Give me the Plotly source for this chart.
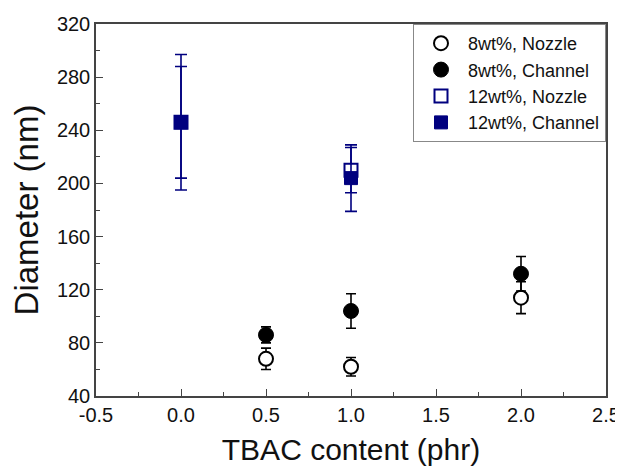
import plotly.graph_objects as go

# Data
x_8wt = [0.5, 1.0, 2.0]
nozzle_8wt = [68, 62, 114]
nozzle_8wt_err = [8, 7, 12]
channel_8wt = [86, 104, 132]
channel_8wt_err = [6, 13, 13]

x_12wt = [0.0, 1.0]
nozzle_12wt = [246, 210]
nozzle_12wt_err = [51, 17]
channel_12wt = [246, 204]
channel_12wt_err = [42, 25]

x_tick_vals = [-0.5, 0.0, 0.5, 1.0, 1.5, 2.0, 2.5]
x_tick_labels = ["-0.5", "0.0", "0.5", "1.0", "1.5", "2.0", "2.5"]
y_tick_vals = [40, 80, 120, 160, 200, 240, 280, 320]
y_tick_labels = ["40", "80", "120", "160", "200", "240", "280", "320"]

NAVY = "#00007f"
FONT = "Liberation Sans, Arial, sans-serif"

fig = go.Figure()

fig.add_trace(go.Scatter(
    x=x_8wt, y=nozzle_8wt, mode="markers", name="8wt%, Nozzle",
    marker=dict(symbol="circle", size=14, color="white", line=dict(color="black", width=2)),
    error_y=dict(type="data", array=nozzle_8wt_err, color="black", thickness=1.6, width=5),
))
fig.add_trace(go.Scatter(
    x=x_8wt, y=channel_8wt, mode="markers", name="8wt%, Channel",
    marker=dict(symbol="circle", size=15, color="black", line=dict(color="black", width=1)),
    error_y=dict(type="data", array=channel_8wt_err, color="black", thickness=1.6, width=5),
))
fig.add_trace(go.Scatter(
    x=x_12wt, y=nozzle_12wt, mode="markers", name="12wt%, Nozzle",
    marker=dict(symbol="square", size=13, color="white", line=dict(color=NAVY, width=2)),
    error_y=dict(type="data", array=nozzle_12wt_err, color=NAVY, thickness=1.6, width=6),
))
fig.add_trace(go.Scatter(
    x=x_12wt, y=channel_12wt, mode="markers", name="12wt%, Channel",
    marker=dict(symbol="square", size=13, color=NAVY, line=dict(color=NAVY, width=1)),
    error_y=dict(type="data", array=channel_12wt_err, color=NAVY, thickness=1.6, width=6),
))

axis_common = dict(
    showline=True, mirror=True, linecolor="#444", linewidth=1.5,
    showgrid=False, zeroline=False, ticks="inside", ticklen=7, tickwidth=1.2,
    tickcolor="#444", tickfont=dict(size=20, color="#111", family=FONT),
    automargin=False,
)

fig.update_xaxes(
    range=[-0.5, 2.5], tickmode="array", tickvals=x_tick_vals, ticktext=x_tick_labels,
    minor=dict(dtick=0.25, tick0=0, ticks="inside", ticklen=4, tickcolor="#444"),
    title=dict(text="TBAC content (phr)", font=dict(size=30, color="#111", family=FONT), standoff=14),
    **axis_common,
)
fig.update_yaxes(
    range=[40, 320], tickmode="array", tickvals=y_tick_vals, ticktext=y_tick_labels,
    minor=dict(dtick=20, tick0=40, ticks="inside", ticklen=4, tickcolor="#444"),
    title=dict(text="Diameter (nm)", font=dict(size=33, color="#111", family=FONT), standoff=15),
    **axis_common,
)

fig.update_layout(
    width=615, height=462,
    margin=dict(l=88, r=17, t=16, b=74),
    paper_bgcolor="white", plot_bgcolor="white",
    font=dict(family=FONT, color="#111"),
    showlegend=True,
    legend=dict(
        x=1, y=1, xanchor="right", yanchor="top",
        bordercolor="#888", borderwidth=1, bgcolor="white",
        font=dict(size=18, color="#111", family=FONT),
        itemwidth=44, tracegroupgap=0,
    ),
)

fig.write_html("out.html")
